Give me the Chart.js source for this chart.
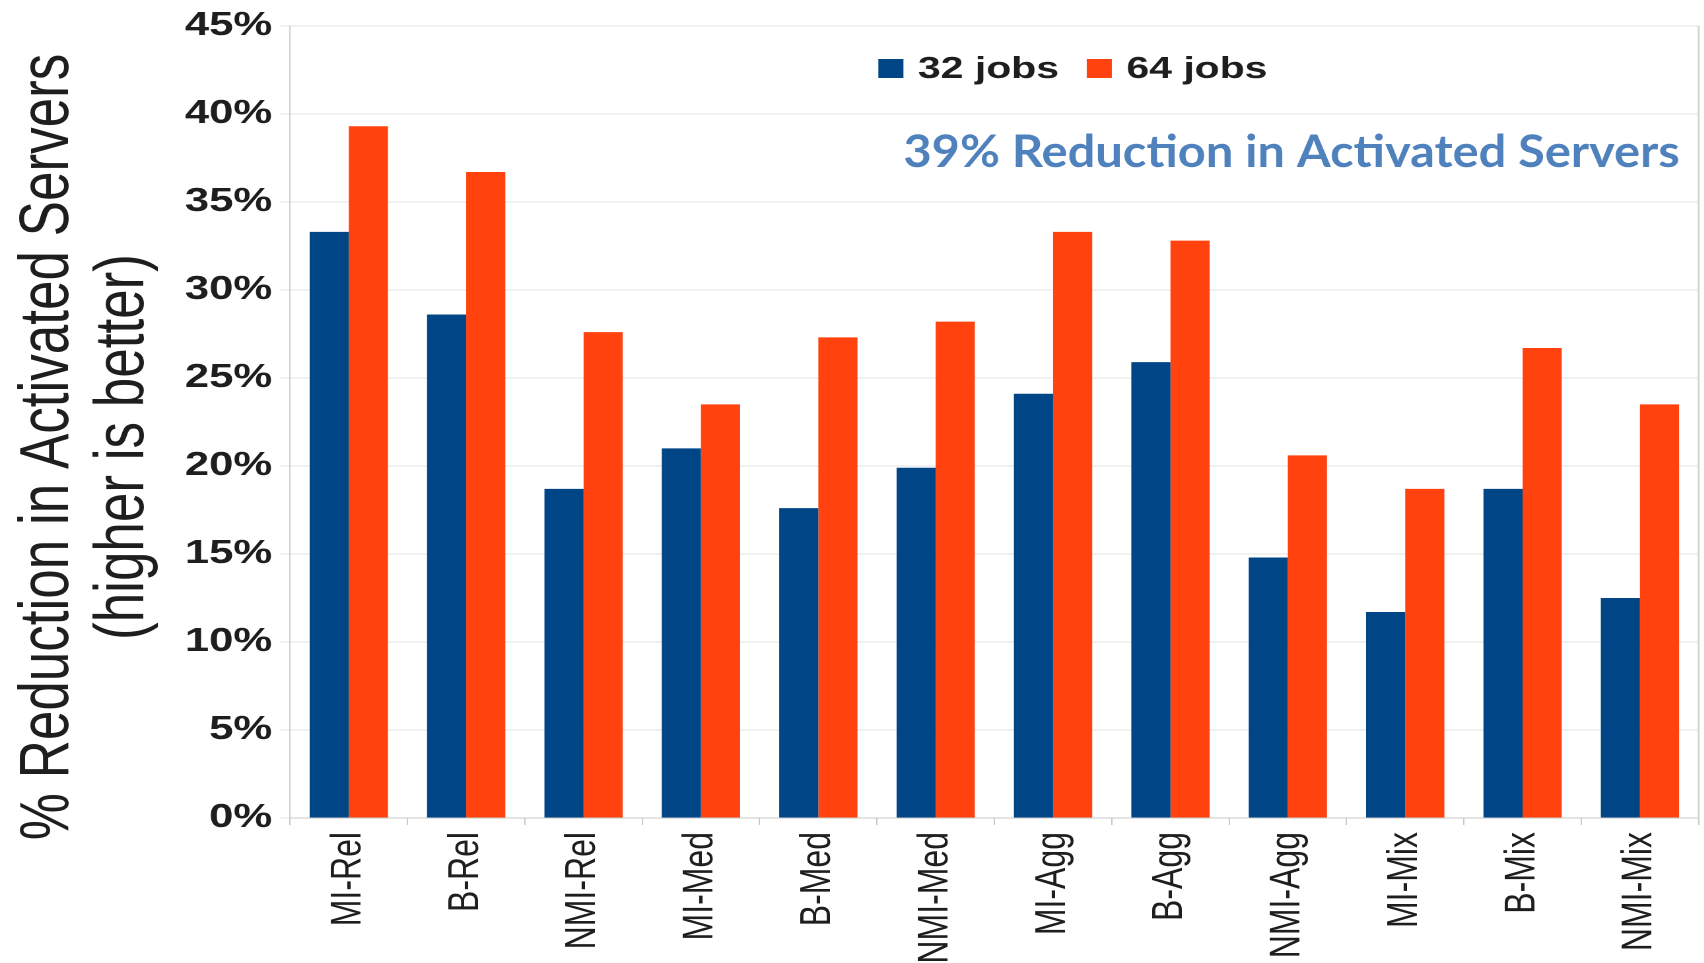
<!DOCTYPE html>
<html>
<head>
<meta charset="utf-8">
<title>Reduction in Activated Servers</title>
<script src="https://cdn.jsdelivr.net/npm/chart.js@4.4.1/dist/chart.umd.min.js"></script>
<style>
  html, body { margin: 0; padding: 0; background: #ffffff; overflow: hidden; }
  #chart-container { position: relative; height: 963px; transform-origin: 0 0; }
</style>
</head>
<body>
<div id="chart-container"><canvas id="chart"></canvas></div>
<script>
// Workload mixes and % reduction in activated servers per job count
const categories = ['MI-Rel', 'B-Rel', 'NMI-Rel', 'MI-Med', 'B-Med', 'NMI-Med',
  'MI-Agg', 'B-Agg', 'NMI-Agg', 'MI-Mix', 'B-Mix', 'NMI-Mix'];
const jobs32 = [33.3, 28.6, 18.7, 21.0, 17.6, 19.9, 24.1, 25.9, 14.8, 11.7, 18.7, 12.5];
const jobs64 = [39.3, 36.7, 27.6, 23.5, 27.3, 28.2, 33.3, 32.8, 20.6, 18.7, 26.7, 23.5];
const seriesLabels = ['32 jobs', '64 jobs'];
const yTicks = [0, 5, 10, 15, 20, 25, 30, 35, 40, 45];
const axisTitle = ['% Reduction in Activated Servers', '(higher is better)'];
const callout = '39% Reduction in Activated Servers';

// The whole chart is drawn narrow and then widened horizontally,
// so layout numbers below are page pixels divided by STRETCH.
const STRETCH = 1.32;
const PAGE_W = 1704;
const TEXT_COLOR = '#1e1e1e';
const SANS = '"Liberation Sans", Arial, sans-serif';

const container = document.getElementById('chart-container');
container.style.width = (PAGE_W / STRETCH) + 'px';
container.style.transform = `scaleX(${STRETCH})`;

// Right-hand edge of the plot wall
const wallBorder = {
  id: 'wallBorder',
  afterDatasetsDraw(chart) {
    const {ctx, chartArea: a} = chart;
    ctx.save();
    ctx.strokeStyle = '#d4d4d4';
    ctx.lineWidth = 2 / STRETCH;
    ctx.beginPath();
    ctx.moveTo(a.right, a.top);
    ctx.lineTo(a.right, a.bottom);
    ctx.stroke();
    ctx.restore();
  }
};

// Two-line rotated y axis title
const yTitle = {
  id: 'yTitle',
  afterDraw(chart) {
    const ctx = chart.ctx;
    const baselines = [68, 143];
    ctx.save();
    ctx.fillStyle = TEXT_COLOR;
    ctx.font = '53px ' + SANS;
    ctx.textAlign = 'center';
    ctx.textBaseline = 'alphabetic';
    axisTitle.forEach((line, i) => {
      ctx.save();
      ctx.translate(baselines[i] / STRETCH, 447);
      ctx.rotate(-Math.PI / 2);
      ctx.fillText(line, 0, 0);
      ctx.restore();
    });
    ctx.restore();
  }
};

// Legend sits inside the plot, near the top
const innerLegend = {
  id: 'innerLegend',
  afterDraw(chart) {
    const ctx = chart.ctx;
    const box = 19;
    let x = 878 / STRETCH;
    ctx.save();
    ctx.font = 'bold 31px ' + SANS;
    ctx.textBaseline = 'alphabetic';
    chart.data.datasets.forEach(ds => {
      ctx.fillStyle = ds.backgroundColor;
      ctx.fillRect(x, 59, box, box);
      x += box + 11;
      ctx.fillStyle = TEXT_COLOR;
      ctx.fillText(ds.label, x, 78);
      x += ctx.measureText(ds.label).width + 21;
    });
    ctx.restore();
  }
};

// Headline callout, drawn at normal proportions
const headline = {
  id: 'headline',
  afterDraw(chart) {
    const ctx = chart.ctx;
    const left = 903, right = 1679;
    ctx.save();
    ctx.font = 'bold 45px Lato, "Open Sans", sans-serif';
    ctx.fillStyle = '#4f81bd';
    ctx.textBaseline = 'alphabetic';
    const w = ctx.measureText(callout).width;
    ctx.translate(left / STRETCH, 167);
    ctx.scale((right - left) / STRETCH / w, 1);
    ctx.fillText(callout, 0, 0);
    ctx.restore();
  }
};

function renderChart() {
  const canvas = document.getElementById('chart');
  new Chart(canvas, {
    type: 'bar',
    data: {
      labels: categories,
      datasets: [
        {label: seriesLabels[0], data: jobs32, backgroundColor: '#004586'},
        {label: seriesLabels[1], data: jobs64, backgroundColor: '#ff420e'}
      ]
    },
    options: {
      responsive: true,
      maintainAspectRatio: false,
      animation: false,
      devicePixelRatio: 2,
      layout: {
        padding: {top: 23, right: (PAGE_W - 1698) / STRETCH, bottom: 0, left: 0}
      },
      datasets: {
        bar: {categoryPercentage: 0.667, barPercentage: 1.0, borderWidth: 0}
      },
      plugins: {
        legend: {display: false},
        tooltip: {enabled: false}
      },
      scales: {
        x: {
          afterFit: s => { s.height = 963 - 818; },
          border: {color: '#c8c8c8'},
          grid: {drawOnChartArea: false, color: '#c8c8c8', tickLength: 7},
          ticks: {
            color: TEXT_COLOR,
            font: {family: SANS, size: 32},
            minRotation: 90,
            maxRotation: 90,
            autoSkip: false,
            padding: 7
          }
        },
        y: {
          min: 0,
          max: 45,
          afterFit: s => { s.width = 290 / STRETCH; },
          afterBuildTicks: s => { s.ticks = yTicks.map(v => ({value: v})); },
          border: {color: '#cfcfcf'},
          grid: {color: '#e2e2e2', tickLength: 10 / STRETCH},
          ticks: {
            color: TEXT_COLOR,
            font: {family: SANS, size: 33, weight: 'bold'},
            padding: 8 / STRETCH,
            callback: v => v + '%'
          }
        }
      }
    },
    plugins: [wallBorder, yTitle, innerLegend, headline]
  });
}

window.addEventListener('load', renderChart);
</script>
</body>
</html>
